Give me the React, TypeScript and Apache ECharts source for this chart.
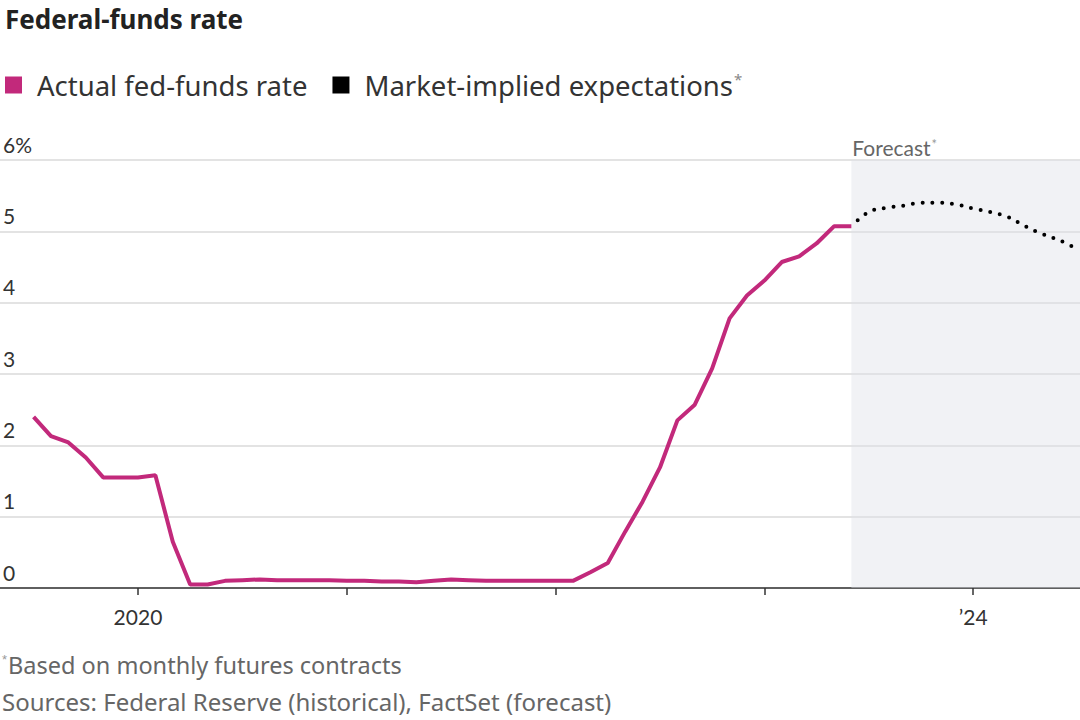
import React, { useEffect, useRef } from "react";
import * as echarts from "echarts";

// Month index relative to Jan 2020 (0 = Jan 2020)
const ACTUAL_MONTHS = [
  -6, -5, -4, -3, -2, -1, 0, 1, 2, 3, 4, 5, 6, 7, 8, 9, 10, 11,
  12, 13, 14, 15, 16, 17, 18, 19, 20, 21, 22, 23,
  24, 25, 26, 27, 28, 29, 30, 31, 32, 33, 34, 35,
  36, 37, 38, 39, 40, 41,
];
const ACTUAL_RATES = [
  2.4, 2.13, 2.04, 1.83, 1.55, 1.55, 1.55, 1.58, 0.65, 0.05, 0.05, 0.1, 0.11, 0.12, 0.11, 0.11, 0.11, 0.11,
  0.1, 0.1, 0.09, 0.09, 0.08, 0.1, 0.12, 0.11, 0.1, 0.1, 0.1, 0.1,
  0.1, 0.1, 0.22, 0.35, 0.79, 1.21, 1.69, 2.35, 2.57, 3.08, 3.78, 4.1,
  4.31, 4.57, 4.65, 4.83, 5.07, 5.07,
];
const FORECAST_MONTHS = [41, 42, 43, 44, 45, 46, 47, 48, 49, 50, 51, 52, 53, 54];
const FORECAST_RATES = [5.07, 5.27, 5.33, 5.36, 5.4, 5.4, 5.38, 5.32, 5.27, 5.2, 5.07, 4.96, 4.87, 4.75];

const X_MIN = -7.93;
const X_MAX = 54.14;
const FORECAST_START = 41;
const TICK_MONTHS = [0, 12, 24, 36, 48];
const LABEL_MONTHS = [0, 48];
const LABEL_TEXTS = ["2020", "\u201924"];
const Y_TICKS = [0, 1, 2, 3, 4, 5, 6];

const TITLE = "Federal-funds rate";
const S1 = "Actual fed-funds rate";
const S2 = "Market-implied expectations";
const NOTE = "Based on monthly futures contracts";
const SOURCE = "Sources: Federal Reserve (historical), FactSet (forecast)";

const MAGENTA = "#c2297b";
const FONT = "Lato";
const TEXT_FONT = "Noto Sans";

export default function App() {
  const ref = useRef<HTMLDivElement>(null);
  useEffect(() => {
    if (!ref.current) return;
    const chart = echarts.init(ref.current, undefined, { renderer: "svg" });
    const actual = ACTUAL_MONTHS.map((m, i) => [m, ACTUAL_RATES[i]]);
    const forecast = FORECAST_MONTHS.map((m, i) => [m, FORECAST_RATES[i]]);
    chart.setOption({
      animation: false,
      textStyle: { fontFamily: FONT },
      title: {
        text: TITLE,
        left: 0,
        top: 1,
        textStyle: { fontFamily: TEXT_FONT, fontSize: 26, fontWeight: "bold", color: "#222" },
      },
      legend: {
        left: 0,
        top: 66,
        icon: "rect",
        itemWidth: 17,
        itemHeight: 17,
        itemGap: 25,
        selectedMode: false,
        data: [
          { name: S1, itemStyle: { color: MAGENTA, borderWidth: 0 } },
          { name: S2, itemStyle: { color: "#000", borderWidth: 0 } },
        ],
        formatter: (name: string) => (name === S2 ? name + "{s|*}" : name),
        textStyle: {
          fontFamily: TEXT_FONT,
          fontSize: 27.5,
          color: "#333",
          padding: [0, 0, 0, 10],
          rich: { s: { fontSize: 15, color: "#888", verticalAlign: "top", padding: [0, 0, 10, 1] } },
        },
      },
      grid: { left: 0, right: 0, top: 160, bottom: 132, containLabel: false },
      xAxis: {
        type: "value",
        min: X_MIN,
        max: X_MAX,
        splitLine: { show: false },
        axisLine: { show: true, onZero: false, lineStyle: { color: "#333", width: 1.5 } },
        axisTick: {
          show: true,
          length: 7,
          customValues: TICK_MONTHS,
          lineStyle: { color: "#333", width: 1.5 },
        },
        axisLabel: {
          show: true,
          customValues: LABEL_MONTHS,
          margin: 18,
          fontFamily: FONT,
          fontSize: 21,
          color: "#333",
          formatter: (v: number) => {
            const i = LABEL_MONTHS.indexOf(Math.round(v));
            return i >= 0 ? LABEL_TEXTS[i] : "";
          },
        },
      },
      yAxis: {
        type: "value",
        min: Y_TICKS[0],
        max: Y_TICKS[Y_TICKS.length - 1],
        interval: 1,
        axisLine: { show: false },
        axisTick: { show: false },
        splitLine: { show: true, lineStyle: { color: "#e3e3e3", width: 2 } },
        axisLabel: {
          inside: true,
          margin: 3,
          verticalAlign: "bottom",
          fontFamily: FONT,
          fontSize: 21,
          lineHeight: 24,
          padding: [0, 0, 4, 0],
          color: "#333",
          formatter: (v: number) => (v === Y_TICKS[Y_TICKS.length - 1] ? v + "%" : String(v)),
        },
      },
      series: [
        {
          name: S2,
          type: "line",
          data: forecast,
          showSymbol: false,
          smooth: 0.4,
          z: 2,
          itemStyle: { color: "#000" },
          lineStyle: { color: "#000", width: 4, type: [0, 9.8], cap: "round", dashOffset: 1 },
          markArea: {
            silent: true,
            itemStyle: { color: "rgba(222,225,232,0.42)" },
            label: {
              show: true,
              position: [1, -2],
              align: "left",
              verticalAlign: "bottom",
              formatter: "Forecast{s|*}",
              fontFamily: FONT,
              fontSize: 21,
              color: "#666",
              rich: { s: { fontSize: 13, color: "#999", verticalAlign: "top", padding: [0, 0, 8, 1] } },
            },
            data: [[{ xAxis: FORECAST_START }, { xAxis: X_MAX }]],
          },
        },
        {
          name: S1,
          type: "line",
          data: actual,
          showSymbol: false,
          z: 3,
          itemStyle: { color: MAGENTA },
          lineStyle: { color: MAGENTA, width: 4 },
        },
      ],
      graphic: [
        {
          type: "text",
          left: 2,
          top: 653,
          style: {
            text: "{s|*}" + NOTE,
            fill: "#666",
            fontFamily: TEXT_FONT,
            fontSize: 23.5,
            rich: { s: { fontSize: 13, fill: "#999", verticalAlign: "top", padding: [0, 1, 10, 0] } },
          },
        },
        {
          type: "text",
          left: 2,
          top: 689,
          style: { text: SOURCE, fill: "#666", fontFamily: TEXT_FONT, fontSize: 24 },
        },
      ],
    });
    return () => chart.dispose();
  }, []);
  return (
    <div
      ref={ref}
      style={{ position: "absolute", left: 0, top: 0, width: 1080, height: 720, background: "#fff" }}
    />
  );
}
